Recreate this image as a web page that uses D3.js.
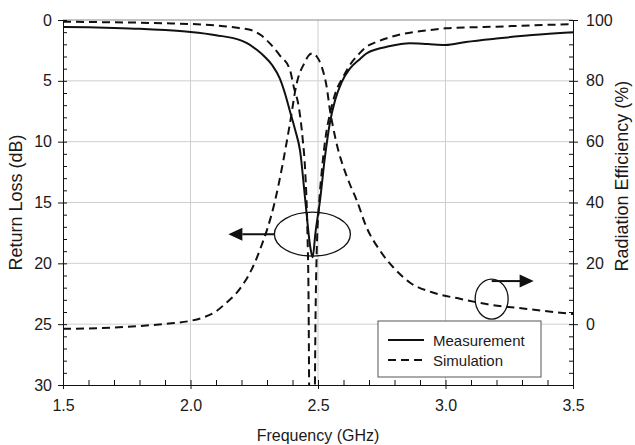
<!DOCTYPE html>
<html>
<head>
<meta charset="utf-8">
<script src="https://cdn.jsdelivr.net/npm/d3@7"></script>
<style>
  body { margin: 0; background: #fff; }
  svg text { font-family: "Liberation Sans", Arial, sans-serif; fill: #1a1a1a; }
</style>
</head>
<body>
<div id="chart"></div>
<script>
// measured return loss (dB)
var measFreq = [1.5, 1.6, 1.7, 1.8, 1.9, 2.0, 2.1, 2.2, 2.23, 2.26, 2.29, 2.32, 2.35, 2.37, 2.39, 2.41, 2.43, 2.45, 2.47, 2.479,
  2.49, 2.508, 2.527, 2.547, 2.567, 2.593, 2.625, 2.665, 2.69, 2.73, 2.77, 2.86, 2.93, 3.0, 3.08, 3.21, 3.34, 3.5];
var measRL = [0.58, 0.6, 0.65, 0.72, 0.83, 0.99, 1.25, 1.7, 2.0, 2.45, 3.0, 3.7, 4.8, 6.0, 7.5, 9.0, 10.8, 14.8, 18.7, 19.5,
  17.5, 14.8, 11.3, 8.4, 6.6, 5.1, 4.0, 3.2, 2.75, 2.4, 2.2, 1.92, 1.98, 2.05, 1.8, 1.5, 1.24, 1.0];

// simulated return loss (dB), dips below the 30 dB floor
var simFreq = [1.5, 1.6, 1.7, 1.8, 1.9, 2.0, 2.1, 2.19, 2.25, 2.28, 2.31, 2.35, 2.39, 2.405, 2.425, 2.44, 2.45, 2.458, 2.463,
  2.466, 2.476, 2.487, 2.49, 2.495, 2.503, 2.515, 2.53, 2.547, 2.57, 2.598, 2.625, 2.66, 2.69, 2.73, 2.77, 2.83, 2.89, 2.95,
  3.0, 3.1, 3.2, 3.3, 3.4, 3.5];
var simRL = [0.14, 0.16, 0.19, 0.22, 0.27, 0.33, 0.45, 0.66, 0.92, 1.3, 1.9, 2.9, 4.1, 5.5, 7.2, 9.8, 12.5, 17, 23,
  32, 40, 32, 25, 19, 15.5, 12.4, 9.6, 7.7, 5.9, 4.7, 3.7, 2.8, 2.2, 1.8, 1.5, 1.15, 0.95, 0.8,
  0.68, 0.6, 0.55, 0.47, 0.4, 0.35];

// simulated radiation efficiency (%)
var effFreq = [1.5, 1.6, 1.7, 1.8, 1.9, 2.0, 2.05, 2.1, 2.14, 2.18, 2.21, 2.24, 2.26, 2.28, 2.3, 2.33, 2.36, 2.39, 2.416,
  2.449, 2.465, 2.479, 2.495, 2.515, 2.534, 2.547, 2.559, 2.58, 2.6, 2.625, 2.652, 2.69, 2.743, 2.795, 2.86, 2.95, 3.06,
  3.16, 3.32, 3.5];
var effSim = [-1.5, -1.4, -1.1, -0.6, 0.1, 1.1, 2.2, 4.2, 7.0, 10.2, 13.6, 18, 21.8, 26.2, 31, 40, 52, 66, 79,
  86.2, 88.5, 89, 88, 84.5, 78, 70.3, 64.8, 57, 51.6, 46, 40.7, 31.9, 24.2, 18.7, 13.7, 10.4, 8.3,
  6.6, 5.0, 3.3];

var xTicks = [1.5, 2.0, 2.5, 3.0, 3.5];
var rlTicks = [0, 5, 10, 15, 20, 25, 30];
var effTicks = [0, 20, 40, 60, 80, 100];
var legendNames = ["Measurement", "Simulation"];

var W = 635, H = 445;
var L = 63, R = 573, T = 20, B = 385;

var svg = d3.select("#chart").append("svg")
  .attr("width", W)
  .attr("height", H);

var x = d3.scaleLinear().domain([1.5, 3.5]).range([L, R]);
var yL = d3.scaleLinear().domain([0, 30]).range([T, B]);
var yR = d3.scaleLinear().domain([100, -20]).range([T, B]);

svg.append("defs").append("clipPath").attr("id", "plot-clip")
  .append("rect").attr("x", L).attr("y", T).attr("width", R - L).attr("height", B - T);

// grid
var grid = svg.append("g").attr("stroke", "#cfcfcf").attr("stroke-width", 1);
grid.selectAll("line.v").data(xTicks.slice(1, -1)).enter().append("line")
  .attr("x1", function(d){ return x(d); }).attr("x2", function(d){ return x(d); })
  .attr("y1", T).attr("y2", B);
grid.selectAll("line.h").data(rlTicks.slice(1, -1)).enter().append("line")
  .attr("x1", L).attr("x2", R)
  .attr("y1", function(d){ return yL(d); }).attr("y2", function(d){ return yL(d); });

svg.append("line").attr("x1", L).attr("x2", R).attr("y1", T).attr("y2", T)
  .attr("stroke", "#8a8a8a").attr("stroke-width", 1.2);

// curves
var plot = svg.append("g").attr("clip-path", "url(#plot-clip)")
  .attr("fill", "none").attr("stroke", "#111").attr("stroke-width", 2);

var lineRL = d3.line()
  .x(function(d){ return x(d[0]); })
  .y(function(d){ return yL(d[1]); })
  .curve(d3.curveMonotoneX);
var lineEff = d3.line()
  .x(function(d){ return x(d[0]); })
  .y(function(d){ return yR(d[1]); })
  .curve(d3.curveMonotoneX);

plot.append("path").attr("d", lineRL(d3.zip(measFreq, measRL)));
plot.append("path").attr("d", lineRL(d3.zip(simFreq, simRL))).attr("stroke-dasharray", "8,5");
plot.append("path").attr("d", lineEff(d3.zip(effFreq, effSim))).attr("stroke-dasharray", "8,5");

// annotations
var ann = svg.append("g").attr("stroke", "#111").attr("stroke-width", 1.3).attr("fill", "none");
var e1x = x(2.478), e1y = yL(17.6);
ann.append("ellipse").attr("cx", e1x).attr("cy", e1y).attr("rx", 38).attr("ry", 22);
ann.append("line").attr("x1", e1x - 38).attr("x2", e1x - 70).attr("y1", e1y).attr("y2", e1y).attr("stroke-width", 2);
ann.append("path").attr("fill", "#111").attr("stroke", "none")
  .attr("d", "M" + (e1x - 84) + "," + e1y + "l14,-6.5v13z");

var e2x = x(3.181), e2y = yR(8.25);
ann.append("ellipse").attr("cx", e2x).attr("cy", e2y).attr("rx", 16.5).attr("ry", 20);
ann.append("line").attr("x1", e2x).attr("x2", e2x + 30).attr("y1", e2y - 18).attr("y2", e2y - 18).attr("stroke-width", 2);
ann.append("path").attr("fill", "#111").attr("stroke", "none")
  .attr("d", "M" + (e2x + 42) + "," + (e2y - 18) + "l-14,-6.5v13z");

// legend
var lg = svg.append("g").attr("transform", "translate(378,321)");
lg.append("rect").attr("width", 163).attr("height", 56)
  .attr("fill", "#fff").attr("stroke", "#555").attr("stroke-width", 1);
lg.selectAll("line").data(legendNames).enter().append("line")
  .attr("x1", 10).attr("x2", 46)
  .attr("y1", function(d, i){ return 19 + i * 20; }).attr("y2", function(d, i){ return 19 + i * 20; })
  .attr("stroke", "#111").attr("stroke-width", 2)
  .attr("stroke-dasharray", function(d, i){ return i ? "8,5" : null; });
lg.selectAll("text").data(legendNames).enter().append("text")
  .attr("x", 55).attr("y", function(d, i){ return 24.5 + i * 20; })
  .attr("font-size", 15).text(function(d){ return d; });

// axes
function styleAxis(g) {
  g.selectAll(".domain").attr("stroke", "#111");
  g.selectAll(".tick line").attr("stroke", "#111");
  g.selectAll(".tick text").attr("font-size", 16).attr("fill", "#1a1a1a")
    .style("font-family", "'Liberation Sans', Arial, sans-serif");
}

svg.append("g").attr("transform", "translate(" + L + ",0)")
  .call(d3.axisLeft(yL).tickValues(d3.range(0, 31, 1)).tickSize(-4).tickFormat("").tickSizeOuter(0))
  .call(styleAxis);
svg.append("g").attr("transform", "translate(" + L + ",0)")
  .call(d3.axisLeft(yL).tickValues(rlTicks).tickSize(5).tickPadding(6).tickSizeOuter(0))
  .call(styleAxis);

svg.append("g").attr("transform", "translate(" + R + ",0)")
  .call(d3.axisRight(yR).tickValues(d3.range(-20, 101, 4)).tickSize(-4).tickFormat("").tickSizeOuter(0))
  .call(styleAxis);
svg.append("g").attr("transform", "translate(" + R + ",0)")
  .call(d3.axisRight(yR).tickValues(effTicks).tickSize(5).tickPadding(8).tickSizeOuter(0))
  .call(styleAxis);

svg.append("g").attr("transform", "translate(0," + B + ")")
  .call(d3.axisBottom(x).tickValues(d3.range(15, 36, 1).map(function(d){ return d / 10; })).tickSize(-5).tickFormat("").tickSizeOuter(0))
  .call(styleAxis);
svg.append("g").attr("transform", "translate(0," + B + ")")
  .call(d3.axisBottom(x).tickValues(xTicks).tickSize(4).tickPadding(11).tickFormat(d3.format(".1f")).tickSizeOuter(0))
  .call(styleAxis);

// titles
svg.append("text").attr("x", (L + R) / 2).attr("y", 441).attr("text-anchor", "middle")
  .attr("font-size", 16).text("Frequency (GHz)");
svg.append("text").attr("transform", "translate(22," + ((T + B) / 2) + ") rotate(-90)")
  .attr("text-anchor", "middle").attr("font-size", 18).text("Return Loss (dB)");
svg.append("text").attr("transform", "translate(628," + ((yR(100) + yR(0)) / 2 + 4) + ") rotate(-90)")
  .attr("text-anchor", "middle").attr("font-size", 18).text("Radiation Efficiency (%)");
</script>
</body>
</html>
